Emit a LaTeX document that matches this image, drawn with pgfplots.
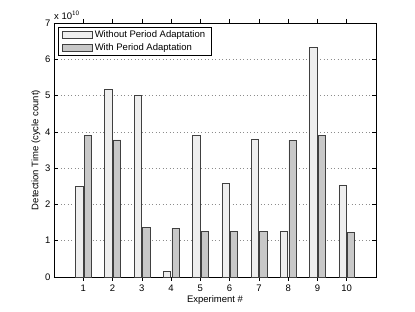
\documentclass[border=0pt]{standalone}
\usepackage{fontspec}
\setmainfont{Liberation Sans}
\usepackage{pgfplots}
\pgfplotsset{compat=1.18}
\definecolor{barA}{HTML}{EEEEEE}
\definecolor{barB}{HTML}{C8C8C8}
\begin{document}
\begin{tikzpicture}
\begin{axis}[
  scale only axis,
  width=322pt, height=254pt,
  xmin=0, xmax=11, ymin=0, ymax=7,
  xtick={1,...,10},
  ytick={0,1,...,7},
  tick align=inside,
  major tick length=4pt,
  tick style={black, line width=0.5pt},
  axis line style={black, line width=0.6pt},
  ymajorgrids,
  grid style={dash pattern=on 1pt off 2.5pt, black!45, line width=0.7pt},
  font=\fontsize{9.5}{11}\selectfont,
  /pgf/number format/assume math mode=true,
  ticklabel style={font=\fontsize{9.5}{11}\selectfont},
  xlabel={Experiment \#},
  ylabel={Detection Time (cycle count)},
  xlabel style={yshift=3pt},
  ylabel style={yshift=-2pt},
  ybar, bar width=0.25,
  legend style={at={(0.012,0.985)}, anchor=north west, draw=black, line width=0.6pt,
    font=\fontsize{9.5}{11}\selectfont, row sep=0.5pt, inner ysep=1.5pt, inner xsep=4pt, cells={anchor=west}},
  legend image code/.code={\draw[#1, line width=0.6pt] (0pt,-3.8pt) rectangle (30pt,3.8pt);},
  clip=false,
]
\addplot[fill=barA, draw=black!75, line width=0.6pt, bar shift=-0.14] coordinates {
  (1,2.50) (2,5.17) (3,5.00) (4,0.15) (5,3.90) (6,2.57) (7,3.80) (8,1.26) (9,6.32) (10,2.54)};
\addplot[fill=barB, draw=black!75, line width=0.6pt, bar shift=0.15] coordinates {
  (1,3.90) (2,3.78) (3,1.37) (4,1.35) (5,1.25) (6,1.26) (7,1.25) (8,3.77) (9,3.90) (10,1.23)};
\legend{Without Period Adaptation, With Period Adaptation}
\node[anchor=south west, inner sep=0pt, font=\fontsize{9.5}{11}\selectfont] at (rel axis cs:0,1) [yshift=3pt] {x 10$^{\mathsf{10}}$};
\end{axis}
\path (current axis.south west) +(-54pt,-35pt) rectangle ([shift={(39pt,23pt)}]current axis.north east);
\end{tikzpicture}
\end{document}
